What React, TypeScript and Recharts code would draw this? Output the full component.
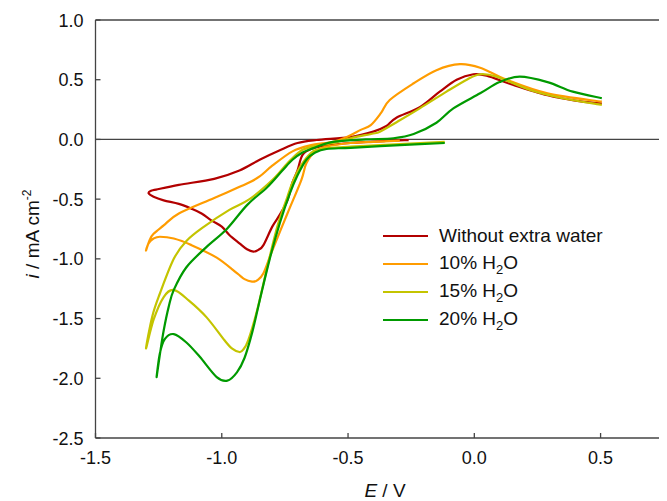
import { Legend, Line, LineChart, ReferenceLine, XAxis, YAxis, Label } from "recharts"

// cyclic voltammograms: [E / V, i / mA cm-2], in scan order
const withoutWater: [number, number][] = [
  [-0.26, -0.005], [-0.35, -0.013], [-0.49, -0.03], [-0.585, -0.05], [-0.64, -0.075],
  [-0.68, -0.13], [-0.7, -0.26], [-0.72, -0.36], [-0.74, -0.51], [-0.77, -0.63],
  [-0.8, -0.73], [-0.835, -0.885], [-0.855, -0.925], [-0.875, -0.94], [-0.9, -0.92],
  [-0.93, -0.87], [-0.97, -0.8], [-1.0, -0.73], [-1.04, -0.68], [-1.08, -0.62],
  [-1.12, -0.58], [-1.17, -0.54], [-1.23, -0.51], [-1.27, -0.48], [-1.29, -0.45],
  [-1.28, -0.43], [-1.26, -0.42], [-1.17, -0.38], [-1.03, -0.33], [-0.93, -0.26],
  [-0.85, -0.17], [-0.77, -0.09], [-0.7, -0.03], [-0.625, -0.005], [-0.49, 0.02],
  [-0.4, 0.065], [-0.35, 0.11], [-0.31, 0.18], [-0.216, 0.27], [-0.137, 0.4],
  [-0.07, 0.5], [-0.004, 0.546], [0.049, 0.534], [0.155, 0.456], [0.29, 0.37],
  [0.4, 0.325], [0.505, 0.3],
]

const water10: [number, number][] = [
  [-0.295, -0.01], [-0.4, -0.02], [-0.49, -0.03], [-0.585, -0.06], [-0.63, -0.1],
  [-0.665, -0.2], [-0.685, -0.34], [-0.74, -0.62], [-0.8, -0.93], [-0.835, -1.12],
  [-0.86, -1.18], [-0.88, -1.19], [-0.91, -1.17], [-0.94, -1.12], [-1.02, -0.99],
  [-1.12, -0.885], [-1.19, -0.83], [-1.245, -0.815], [-1.27, -0.83], [-1.29, -0.87],
  [-1.3, -0.93], [-1.285, -0.84], [-1.27, -0.79], [-1.23, -0.72], [-1.17, -0.62],
  [-1.03, -0.49], [-0.9, -0.37], [-0.85, -0.31], [-0.8, -0.22], [-0.72, -0.1],
  [-0.65, -0.05], [-0.56, -0.02], [-0.505, 0.02], [-0.45, 0.08], [-0.41, 0.12],
  [-0.37, 0.22], [-0.335, 0.33], [-0.24, 0.47], [-0.15, 0.58], [-0.057, 0.63],
  [0.023, 0.6], [0.128, 0.5], [0.29, 0.386], [0.505, 0.316],
]

const water15: [number, number][] = [
  [-0.117, -0.02], [-0.295, -0.04], [-0.49, -0.06], [-0.61, -0.08], [-0.65, -0.12],
  [-0.69, -0.23], [-0.72, -0.36], [-0.74, -0.48], [-0.78, -0.73], [-0.82, -1.07],
  [-0.86, -1.43], [-0.895, -1.68], [-0.915, -1.76], [-0.93, -1.78], [-0.96, -1.75],
  [-0.99, -1.68], [-1.06, -1.49], [-1.13, -1.35], [-1.19, -1.26], [-1.23, -1.32],
  [-1.27, -1.51], [-1.3, -1.75], [-1.275, -1.48], [-1.245, -1.29], [-1.19, -1.0],
  [-1.14, -0.85], [-1.07, -0.73], [-0.97, -0.59], [-0.89, -0.5], [-0.8, -0.34],
  [-0.74, -0.2], [-0.69, -0.1], [-0.64, -0.06], [-0.56, -0.03], [-0.49, 0.01],
  [-0.4, 0.05], [-0.374, 0.065], [-0.295, 0.16], [-0.216, 0.26], [-0.11, 0.4],
  [-0.03, 0.5], [0.023, 0.546], [0.088, 0.526], [0.22, 0.414], [0.35, 0.345],
  [0.505, 0.29],
]

const water20: [number, number][] = [
  [-0.117, -0.03], [-0.295, -0.047], [-0.49, -0.07], [-0.585, -0.08], [-0.63, -0.11],
  [-0.665, -0.17], [-0.7, -0.3], [-0.73, -0.45], [-0.77, -0.7], [-0.81, -1.0],
  [-0.85, -1.35], [-0.88, -1.62], [-0.91, -1.83], [-0.94, -1.95], [-0.978, -2.02],
  [-1.02, -1.99], [-1.087, -1.82], [-1.14, -1.7], [-1.19, -1.63], [-1.225, -1.67],
  [-1.245, -1.79], [-1.258, -1.99], [-1.245, -1.8], [-1.23, -1.6], [-1.21, -1.4],
  [-1.19, -1.26], [-1.14, -1.07], [-1.06, -0.9], [-0.98, -0.75], [-0.9, -0.55],
  [-0.82, -0.4], [-0.76, -0.26], [-0.72, -0.17], [-0.68, -0.11], [-0.64, -0.075],
  [-0.56, -0.02], [-0.43, 0.0], [-0.32, 0.01], [-0.24, 0.045], [-0.15, 0.14],
  [-0.083, 0.26], [0.023, 0.386], [0.1, 0.48], [0.18, 0.526], [0.29, 0.48],
  [0.39, 0.4], [0.505, 0.345],
]

const seriesNames = ["Without extra water", "10% H2O", "15% H2O", "20% H2O"]
const seriesColors = ["#b20000", "#ff9c00", "#c4c400", "#009a00"]
const seriesPoints = [withoutWater, water10, water15, water20]

const xTicks = [-1.5, -1.0, -0.5, 0.0, 0.5]
const yTicks = [-2.5, -2.0, -1.5, -1.0, -0.5, 0.0, 0.5, 1.0]

const axisColor = "#444"
const font = "'Liberation Sans', Arial, sans-serif"

const series = seriesPoints.map((pts, k) => ({
  name: seriesNames[k],
  color: seriesColors[k],
  rows: pts.map(([E, i]) => ({ E, i })),
}))

// Catmull-Rom through the points; the loops double back on x, so monotone won't do
const smoothCurve = (context: any) => {
  let pts: [number, number][] = []
  return {
    areaStart() {},
    areaEnd() {},
    lineStart() {
      pts = []
    },
    point(x: number, y: number) {
      pts.push([+x, +y])
    },
    lineEnd() {
      const n = pts.length
      if (!n) return
      context.moveTo(pts[0][0], pts[0][1])
      for (let k = 0; k < n - 1; k++) {
        const p0 = pts[Math.max(k - 1, 0)]
        const p1 = pts[k]
        const p2 = pts[k + 1]
        const p3 = pts[Math.min(k + 2, n - 1)]
        context.bezierCurveTo(
          p1[0] + (p2[0] - p0[0]) / 6,
          p1[1] + (p2[1] - p0[1]) / 6,
          p2[0] - (p3[0] - p1[0]) / 6,
          p2[1] - (p3[1] - p1[1]) / 6,
          p2[0],
          p2[1],
        )
      }
    },
  }
}

const XTick = ({ x, y, payload }: any) => (
  <g>
    <line x1={x} y1={y} x2={x} y2={y - 5} stroke={axisColor} strokeWidth={1.3} />
    <text x={x} y={y + 26} textAnchor="middle" fontSize={18} fontFamily={font} fill="#111">
      {payload.value.toFixed(1)}
    </text>
  </g>
)

const YTick = ({ x, y, payload }: any) => (
  <g>
    <line x1={x} y1={y} x2={x + 5} y2={y} stroke={axisColor} strokeWidth={1.3} />
    <text x={x - 12} y={y + 6.5} textAnchor="end" fontSize={18} fontFamily={font} fill="#111">
      {payload.value.toFixed(1)}
    </text>
  </g>
)

// "H2O" with a subscript 2
const SeriesLabel = ({ text }: { text: string }) => {
  const m = text.match(/^(.*H)2(O)$/)
  if (!m) return <span>{text}</span>
  return (
    <span>
      {m[1]}
      <sub style={{ fontSize: 13, verticalAlign: -5 }}>2</sub>
      {m[2]}
    </span>
  )
}

const LegendBox = () => (
  <div style={{ fontFamily: font, fontSize: 19, color: "#111" }}>
    {series.map((s) => (
      <div key={s.name} style={{ display: "flex", alignItems: "center", height: 28 }}>
        <svg width={56} height={10} style={{ flex: "none" }}>
          <line x1={0} y1={5} x2={45} y2={5} stroke={s.color} strokeWidth={2.2} />
        </svg>
        <SeriesLabel text={s.name} />
      </div>
    ))}
  </div>
)

export default function App() {
  return (
    <LineChart width={659} height={493} margin={{ top: 12, right: 0, bottom: 0, left: 0 }}>
      <XAxis
        dataKey="E"
        type="number"
        domain={[-1.5, 0.763]}
        ticks={xTicks}
        allowDataOverflow
        height={63}
        stroke={axisColor}
        strokeWidth={1.3}
        tickSize={0}
        tickMargin={0}
        tick={<XTick />}
      >
        <Label
          content={() => (
            <text x={377} y={489} textAnchor="middle" fontSize={19} fontFamily={font} fill="#111">
              <tspan fontStyle="italic">E</tspan> / V
            </text>
          )}
        />
      </XAxis>
      <YAxis
        dataKey="i"
        type="number"
        domain={[-2.5, 1]}
        ticks={yTicks}
        width={87.5}
        stroke={axisColor}
        strokeWidth={1.3}
        tickSize={0}
        tickMargin={0}
        tick={<YTick />}
      >
        <Label
          content={() => (
            <text
              transform="translate(31,226) rotate(-90)"
              textAnchor="middle"
              fontSize={19}
              fontFamily={font}
              fill="#111"
            >
              <tspan fontStyle="italic">i</tspan> / mA cm
              <tspan fontSize={12} dy={-8}>-2</tspan>
            </text>
          )}
        />
      </YAxis>
      <ReferenceLine y={0} stroke={axisColor} strokeWidth={1.3} />
      <ReferenceLine y={1} stroke={axisColor} strokeWidth={1.3} />
      {series.map((s) => (
        <Line
          key={s.name}
          data={s.rows}
          dataKey="i"
          name={s.name}
          type={smoothCurve as any}
          stroke={s.color}
          strokeWidth={2.2}
          dot={false}
          activeDot={false}
          isAnimationActive={false}
        />
      ))}
      <Legend
        layout="vertical"
        align="center"
        verticalAlign="middle"
        content={<LegendBox />}
        wrapperStyle={{ left: 375, top: 214, width: "auto", height: "auto" }}
      />
    </LineChart>
  )
}
